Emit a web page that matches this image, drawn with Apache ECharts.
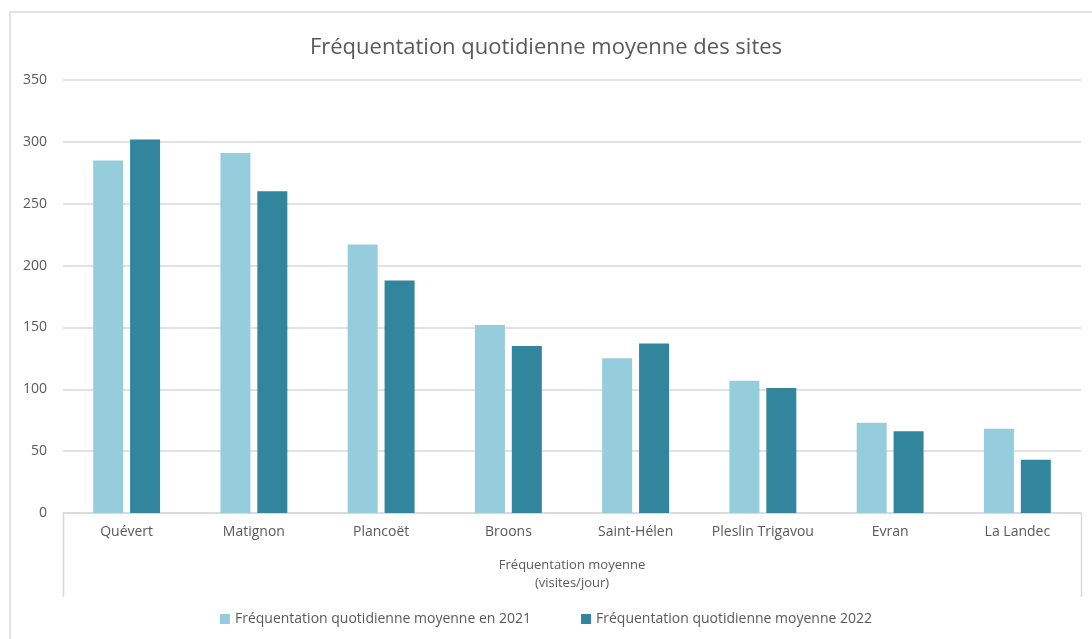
<!DOCTYPE html>
<html>
<head>
<meta charset="utf-8">
<script src="https://cdn.jsdelivr.net/npm/echarts@6/dist/echarts.min.js"></script>
<style>
  html, body { margin: 0; padding: 0; background: #fff; }
  #chart { width: 1092px; height: 639px; }
</style>
</head>
<body>
<div id="chart"></div>
<script>
const sites = ['Quévert', 'Matignon', 'Plancoët', 'Broons', 'Saint-Hélen', 'Pleslin Trigavou', 'Evran', 'La Landec']
const freq2021 = [285, 291, 217, 152, 125, 107, 73, 68]
const freq2022 = [302, 260, 188, 135, 137, 101, 66, 43]
const yTicks = [0, 50, 100, 150, 200, 250, 300, 350]

const font = '"Open Sans", "Noto Sans", sans-serif'
const grey = '#595959'
const lineGrey = '#d9d9d9'

const myChart = echarts.init(document.getElementById('chart'))

const option = {
  animation: false,
  color: ['#95cddd', '#31859c'],
  title: {
    text: 'Fréquentation quotidienne moyenne des sites',
    left: 'center',
    top: 32,
    textStyle: { color: grey, fontSize: 22, fontWeight: 'normal', fontFamily: font }
  },
  legend: {
    bottom: 8,
    left: 'center',
    itemWidth: 10,
    itemHeight: 10,
    itemGap: 50,
    icon: 'rect',
    textStyle: { color: grey, fontSize: 14, fontFamily: font }
  },
  grid: { left: 63, right: 11, top: 80, bottom: 126 },
  xAxis: {
    type: 'category',
    data: sites,
    name: 'Fréquentation moyenne\n(visites/jour)',
    nameLocation: 'middle',
    nameGap: 43,
    nameTextStyle: { color: grey, fontSize: 13, fontFamily: font, lineHeight: 18 },
    axisLine: { lineStyle: { color: lineGrey, width: 1.5 } },
    axisTick: { show: false },
    axisLabel: { color: grey, fontSize: 14, fontFamily: font, margin: 12, interval: 0 }
  },
  yAxis: {
    type: 'value',
    min: yTicks[0],
    max: yTicks[yTicks.length - 1],
    interval: 50,
    axisLine: { show: false },
    axisTick: { show: false },
    axisLabel: { color: grey, fontSize: 14, fontFamily: font, margin: 16 },
    splitLine: { lineStyle: { color: lineGrey, width: 1.5 } }
  },
  series: [
    {
      name: 'Fréquentation quotidienne moyenne en 2021',
      type: 'bar',
      data: freq2021,
      barWidth: 30,
      barGap: '23%'
    },
    {
      name: 'Fréquentation quotidienne moyenne 2022',
      type: 'bar',
      data: freq2022,
      barWidth: 30,
      barGap: '23%'
    }
  ],
  graphic: [
    // cadre du graphique
    { type: 'polyline', shape: { points: [[10, 639], [10, 12], [1092, 12]] }, style: { stroke: lineGrey, lineWidth: 1.5, fill: null }, silent: true },
    // boîte de l'axe des catégories
    { type: 'line', shape: { x1: 63.5, y1: 513, x2: 63.5, y2: 597 }, style: { stroke: lineGrey, lineWidth: 1.5 }, silent: true },
    { type: 'line', shape: { x1: 1081.5, y1: 513, x2: 1081.5, y2: 597 }, style: { stroke: lineGrey, lineWidth: 1.5 }, silent: true }
  ]
}
myChart.setOption(option)
</script>
</body>
</html>
